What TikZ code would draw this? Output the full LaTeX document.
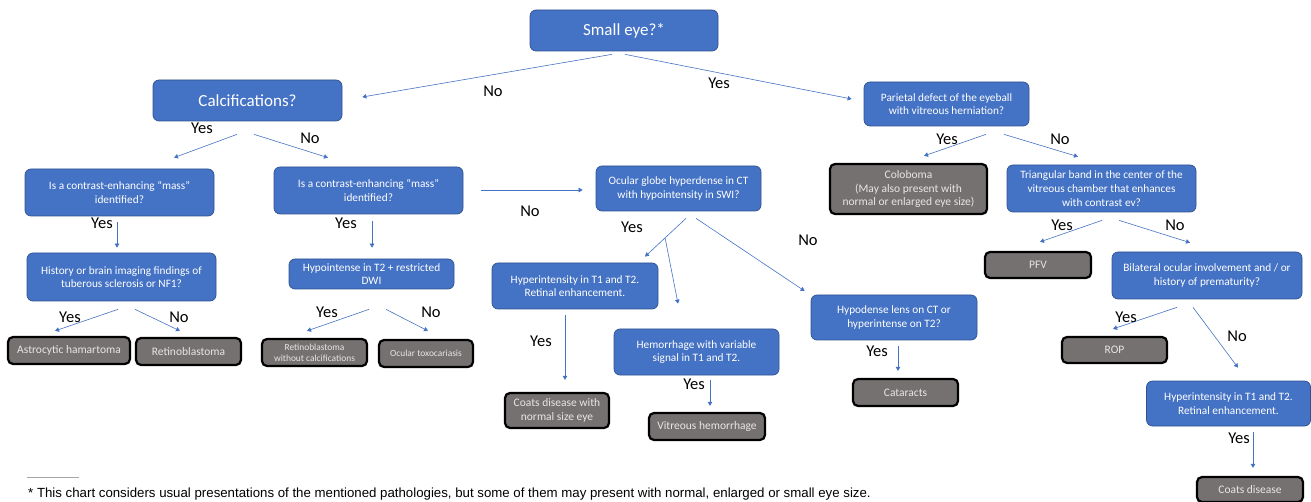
\documentclass[tikz,border=0pt]{standalone}
\usepackage{fontspec}
\setmainfont{Carlito}
\newfontfamily\arialfont{Liberation Sans}
\usetikzlibrary{arrows.meta,calc}
\definecolor{qblue}{HTML}{4472C4}
\definecolor{qborder}{HTML}{2F528F}
\definecolor{rgray}{HTML}{767171}
\definecolor{rtext}{HTML}{E6E6E6}
\definecolor{fnline}{HTML}{A6A6A6}
\tikzset{
  qbox/.style={draw=qborder, line width=0.7pt, fill=qblue, rounded corners=6pt, text=white, align=center, inner sep=0pt, font=\fontsize{11.3}{13.7}\selectfont},
  bigq/.style={qbox, font=\fontsize{17}{20}\selectfont},
  rbox/.style={draw=black, line width=2.2pt, fill=rgray, rounded corners=5pt, text=rtext, align=center, inner sep=0pt, font=\fontsize{11.5}{13.6}\selectfont},
  rsmall/.style={rbox, font=\fontsize{9.4}{11}\selectfont},
  arr/.style={draw=qblue, line width=0.6pt, -{Triangle[width=4.5pt,length=4pt]}},
  lab/.style={font=\fontsize{16.5}{19}\selectfont, text=black, inner sep=0pt},
}
\newcommand{\bx}[6]{\node[#1, minimum width=#4pt, minimum height=#5pt] (#2) at (#3) {#6};}
\begin{document}
\begin{tikzpicture}[x=1pt,y=-1pt]
\useasboundingbox (0,0) rectangle (1311,502);
% question boxes
\bx{bigq}{se}{624,30.5}{188}{41}{Small eye?*}
\bx{bigq}{calc}{247.5,100.5}{189}{41}{Calcifications?}
\bx{qbox}{par}{946.5,104}{165}{44}{Parietal defect of the eyeball\\with vitreous herniation?}
\bx{qbox}{mL}{119.5,192.5}{189}{47}{Is a contrast-enhancing “mass”\\identified?}
\bx{qbox}{mM}{368.5,190.5}{189}{47}{Is a contrast-enhancing “mass”\\identified?}
\bx{qbox}{og}{678.5,188.5}{165}{45}{Ocular globe hyperdense in CT\\with hypointensity in SWI?}
\bx{qbox}{tri}{1101.5,188.5}{189}{47}{Triangular band in the center of the\\vitreous chamber that enhances\\with contrast ev?}
\bx{qbox}{bil}{1207,275.5}{190}{47}{Bilateral ocular involvement and / or\\history of prematurity?}
\bx{qbox}{hl}{894,317.5}{166}{45}{Hypodense lens on CT or\\hyperintense on T2?}
\bx{qbox}{hyR}{1228.5,403.5}{164}{45}{Hyperintensity in T1 and T2.\\Retinal enhancement.}
\bx{qbox}{hist}{121.5,277}{189}{48}{History or brain imaging findings of\\tuberous sclerosis or NF1?}
\bx{qbox}{hypo}{371.5,274}{165}{30}{Hypointense in T2 + restricted\\DWI}
\bx{qbox}{hyM}{575,286}{166}{46}{Hyperintensity in T1 and T2.\\Retinal enhancement.}
\bx{qbox}{hem}{696.5,352}{165}{46}{Hemorrhage with variable\\signal in T1 and T2.}
% result boxes
\bx{rbox}{col}{908.5,189}{157}{50}{Coloboma\\(May also present with\\normal or enlarged eye size)}
\bx{rbox}{pfv}{1038,265}{106}{26}{PFV}
\bx{rbox}{cat}{905.5,392.5}{105}{27}{Cataracts}
\bx{rbox}{rop}{1114.5,350}{105}{26}{ROP}
\bx{rbox}{coats}{1250,489.5}{106}{25}{Coats disease}
\bx{rbox}{astro}{69,350.5}{122}{27}{Astrocytic hamartoma}
\bx{rbox}{rb}{188.5,351.5}{105}{27}{Retinoblastoma}
\bx{rsmall}{rbw}{314.5,352.5}{105}{27}{Retinoblastoma\\without calcifications}
\bx{rsmall}{toxo}{426,353.5}{94}{27}{Ocular toxocariasis}
\bx{rbox}{coatsN}{557,410.5}{104}{35}{Coats disease with\\normal size eye}
\bx{rbox}{vit}{707,426.5}{116}{27}{Vitreous hemorrhage}
% connectors
\draw[arr] ([xshift=-12pt,yshift=-3pt]se.south) -- ([xshift=20pt,yshift=3.5pt]calc.east);
\draw[arr] ([xshift=1pt,yshift=-3pt]se.south) -- ([xshift=-12pt,yshift=5pt]par.west);
\draw[arr] ([xshift=-10.5pt,yshift=-13pt]calc.south) -- ([xshift=54.5pt,yshift=11pt]mL.north);
\draw[arr] ([xshift=6.5pt,yshift=-13pt]calc.south) -- ([xshift=-40.5pt,yshift=9pt]mM.north);
\draw[arr] ([xshift=-2.5pt,yshift=-6pt]mL.south) -- ([xshift=-4.5pt,yshift=5pt]hist.north);
\draw[arr] ([xshift=3.5pt,yshift=-7pt]mM.south) -- ([xshift=0.5pt,yshift=11pt]hypo.north);
\draw[arr] ([xshift=18pt,yshift=0.5pt]mM.east) -- ([xshift=-13pt,yshift=-1.5pt]og.west);
\draw[arr] ([xshift=7.5pt,yshift=-7pt]og.south) -- coordinate[pos=0.51] (br) ([xshift=70pt,yshift=6pt]hyM.north);
\draw[arr] (br) -- ([xshift=-18.5pt,yshift=25pt]hem.north);
\draw[arr] ([xshift=17.5pt,yshift=-7pt]og.south) -- ([xshift=-6pt,yshift=26.5pt]hl.west);
\draw[arr] ([xshift=4pt,yshift=-6pt]hl.south) -- ([xshift=-7.5pt,yshift=7pt]cat.north);
\draw[arr] ([xshift=-3.5pt,yshift=-8pt]hist.south) -- ([xshift=-14pt,yshift=5pt]astro.north);
\draw[arr] ([xshift=13.5pt,yshift=-8pt]hist.south) -- ([xshift=-8.5pt,yshift=6pt]rb.north);
\draw[arr] ([xshift=-2.5pt,yshift=-20pt]hypo.south) -- ([xshift=-7.5pt,yshift=7pt]rbw.north);
\draw[arr] ([xshift=14.5pt,yshift=-20pt]hypo.south) -- ([xshift=2pt,yshift=8pt]toxo.north);
\draw[arr] ([xshift=-10pt,yshift=-6pt]hyM.south) -- ([xshift=8pt,yshift=12pt]coatsN.north);
\draw[arr] ([xshift=13.5pt,yshift=-5pt]hem.south) -- ([xshift=3pt,yshift=6pt]vit.north);
\draw[arr] ([xshift=39.5pt,yshift=-8pt]par.south) -- ([xshift=15.5pt,yshift=7pt]col.north);
\draw[arr] ([xshift=57.5pt,yshift=-8pt]par.south) -- ([xshift=-23.5pt,yshift=8pt]tri.north);
\draw[arr] ([xshift=0.5pt,yshift=-8pt]tri.south) -- ([xshift=2pt,yshift=9pt]pfv.north);
\draw[arr] ([xshift=17.5pt,yshift=-8pt]tri.south) -- ([xshift=-17pt,yshift=9pt]bil.north);
\draw[arr] ([xshift=-30pt,yshift=-8pt]bil.south) -- ([xshift=-1.5pt,yshift=7pt]rop.north);
\draw[arr] ([xshift=-14pt,yshift=-8pt]bil.south) -- ([xshift=9.5pt,yshift=13pt]hyR.north);
\draw[arr] ([xshift=24.5pt,yshift=-6pt]hyR.south) -- ([xshift=3pt,yshift=8pt]coats.north);
% labels
\node[lab] (l1) at (493,91) {No};
\node[lab] (l2) at (719,83) {Yes};
\node[lab] (l3) at (202,128) {Yes};
\node[lab] (l4) at (310,138) {No};
\node[lab] (l5) at (102,223) {Yes};
\node[lab] (l6) at (346,223) {Yes};
\node[lab] (l7) at (530,211) {No};
\node[lab] (l8) at (632,227) {Yes};
\node[lab] (l9) at (808,240) {No};
\node[lab] (l10) at (70,317) {Yes};
\node[lab] (l11) at (179,317) {No};
\node[lab] (l12) at (327,312) {Yes};
\node[lab] (l13) at (431,312) {No};
\node[lab] (l14) at (541,341) {Yes};
\node[lab] (l15) at (694,384) {Yes};
\node[lab] (l16) at (877,351) {Yes};
\node[lab] (l17) at (947,139) {Yes};
\node[lab] (l18) at (1060,139) {No};
\node[lab] (l19) at (1062,225) {Yes};
\node[lab] (l20) at (1175,225) {No};
\node[lab] (l21) at (1126,317) {Yes};
\node[lab] (l22) at (1237,336) {No};
\node[lab] (l23) at (1239,438) {Yes};
% footnote
\coordinate (fa) at (27,477);
\coordinate (fb) at (79,477);
\draw[fnline, line width=0.8pt] (fa) -- (fb);
\node[anchor=west, inner sep=0pt, font=\arialfont\fontsize{13.25}{15}\selectfont] (fn) at (28,494) {* This chart considers usual presentations of the mentioned pathologies, but some of them may present with normal, enlarged or small eye size.};
\end{tikzpicture}
\end{document}
